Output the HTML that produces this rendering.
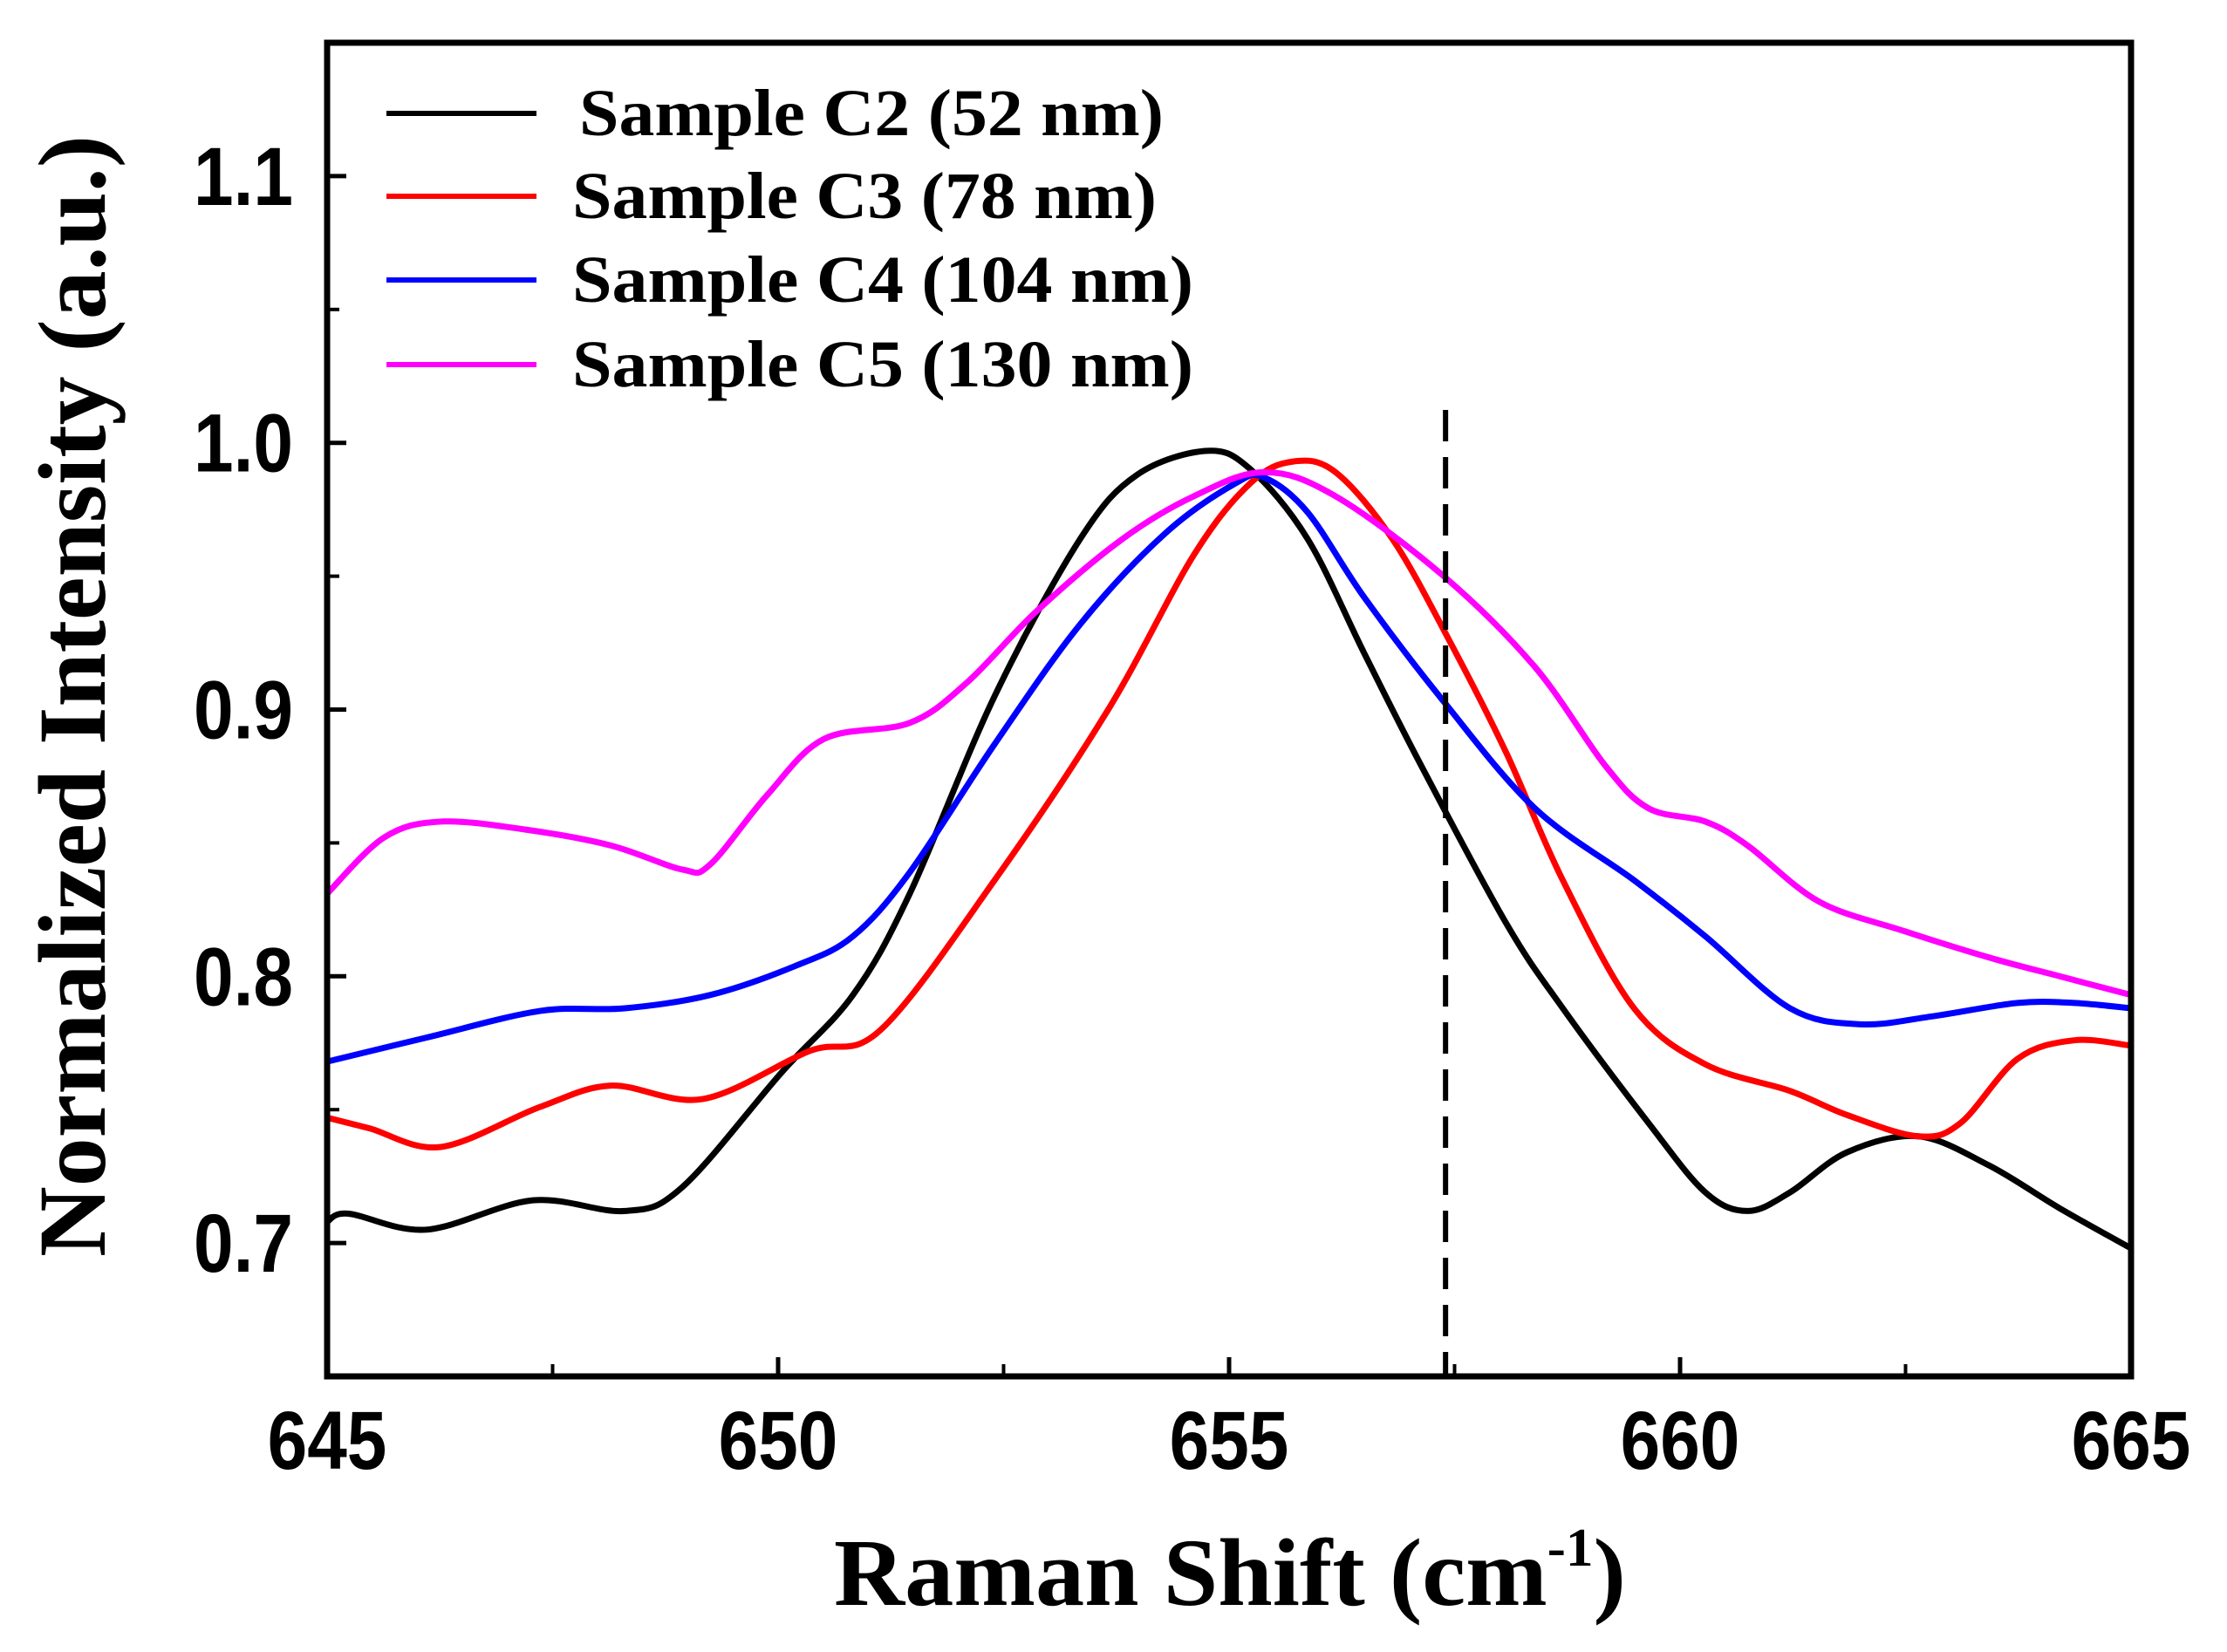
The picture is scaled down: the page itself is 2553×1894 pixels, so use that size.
<!DOCTYPE html>
<html><head><meta charset="utf-8"><style>
html,body{margin:0;padding:0;background:#fff;}
svg{display:block;}
</style></head><body>
<svg id="chart" width="2553" height="1894" viewBox="0 0 2553 1894" xmlns="http://www.w3.org/2000/svg">
<g id="plot"></g>
</svg>
<script>
const xTicks=[645,650,655,660,665];
const xMinor=[647.5,652.5,657.5,662.5];
const yTicks=[0.7,0.8,0.9,1.0,1.1];
const yTickLabels=["0.7","0.8","0.9","1.0","1.1"];
const yMinor=[0.75,0.85,0.95,1.05];
const dashX=657.4;
const c2x=[645,645.24,646.1,647.28,648.3,648.94,650.04,650.83,651.46,652.4,653.35,653.98,654.76,655.24,655.87,656.5,657.13,658.07,658.7,659.65,660.28,660.75,661.22,661.85,662.64,663.43,664.21,665];
const c2y=[0.708,0.711,0.705,0.716,0.712,0.721,0.764,0.793,0.831,0.905,0.964,0.988,0.997,0.990,0.964,0.921,0.879,0.820,0.788,0.745,0.719,0.712,0.719,0.734,0.740,0.729,0.713,0.698];
const c3x=[645,645.47,646.26,647.36,648.15,649.17,650.35,651.14,652.4,653.66,654.61,655.24,655.71,656.18,656.81,657.44,658.07,658.7,659.49,660.28,661.22,661.85,662.64,663.11,663.74,664.37,665];
const c3y=[0.747,0.743,0.736,0.751,0.759,0.754,0.772,0.780,0.836,0.900,0.958,0.985,0.993,0.989,0.964,0.926,0.884,0.836,0.788,0.767,0.757,0.748,0.740,0.745,0.769,0.776,0.774];
const c4x=[645,646.1,647.36,648.3,649.25,650.2,650.83,651.46,652.4,653.35,654.29,655.08,655.39,655.87,656.5,657.38,658.39,659.49,660.28,661.22,662.0,662.8,663.74,664.37,665];
const c4y=[0.768,0.777,0.787,0.788,0.793,0.804,0.815,0.839,0.887,0.932,0.966,0.985,0.987,0.974,0.942,0.903,0.863,0.836,0.815,0.788,0.782,0.785,0.790,0.790,0.788];
const c5x=[645,645.63,646.26,647.2,648.15,648.94,649.25,649.88,650.51,651.46,652.09,652.87,653.82,654.61,655.39,656.18,657.38,658.39,659.17,659.65,660.28,660.75,661.54,662.48,663.43,664.21,665];
const c5y=[0.831,0.852,0.858,0.855,0.849,0.840,0.842,0.868,0.889,0.895,0.910,0.937,0.964,0.980,0.989,0.980,0.950,0.916,0.879,0.863,0.858,0.849,0.828,0.817,0.807,0.800,0.793];
const seriesNames=["Sample C2 (52 nm)","Sample C3 (78 nm)","Sample C4 (104 nm)","Sample C5 (130 nm)"];

const L=375,R=2443,T=49,B=1578;
const X=v=>L+(v-645)/(665-645)*(R-L);
const Y=v=>B-(v-0.65)/(1.15-0.65)*(B-T);
const NS="http://www.w3.org/2000/svg";
const g=document.getElementById('plot');
function mk(tag,attrs,parent){const e=document.createElementNS(NS,tag);for(const k in attrs)e.setAttribute(k,attrs[k]);(parent||g).appendChild(e);return e;}
function smooth(xs,ys){
  const p=xs.map((x,i)=>[X(x),Y(ys[i])]);
  let d="M"+p[0][0]+","+p[0][1];
  for(let i=0;i<p.length-1;i++){
    const p0=p[i-1]||p[i],p1=p[i],p2=p[i+1],p3=p[i+2]||p2;
    const c1=[p1[0]+(p2[0]-p0[0])/6,p1[1]+(p2[1]-p0[1])/6];
    const c2=[p2[0]-(p3[0]-p1[0])/6,p2[1]-(p3[1]-p1[1])/6];
    d+=" C"+c1[0]+","+c1[1]+" "+c2[0]+","+c2[1]+" "+p2[0]+","+p2[1];
  }
  return d;
}
const cols=["#000000","#ff0000","#0000ff","#ff00ff"];
const xs=[c2x,c3x,c4x,c5x], ys=[c2y,c3y,c4y,c5y];
const keys=["c2","c3","c4","c5"];
for(let i=0;i<4;i++){
  const p=mk('path',{d:smooth(xs[i],ys[i]),fill:'none',stroke:cols[i],'stroke-width':7,'stroke-linejoin':'round'});
  
  
}
const dl=mk('line',{x1:X(dashX),x2:X(dashX),y1:470,y2:B,stroke:'#000','stroke-width':6,'stroke-dasharray':'36,18'});


const frame=mk('rect',{x:L,y:T,width:R-L,height:B-T,fill:'none',stroke:'#000','stroke-width':7});


xTicks.forEach((v,i)=>{
  const t=mk('line',{x1:X(v),x2:X(v),y1:B,y2:B-22,stroke:'#000','stroke-width':5});
  
  
  const lb=mk('text',{x:0,y:0,'text-anchor':'middle','font-family':'Liberation Sans, sans-serif','font-weight':'bold','font-size':82,transform:'translate('+X(v)+',1684) scale(1,1.15)'});
  lb.textContent=String(v);
  
  
});
xMinor.forEach(v=>{
  const t=mk('line',{x1:X(v),x2:X(v),y1:B,y2:B-14,stroke:'#000','stroke-width':4});
  
  
});
yTicks.forEach((v,i)=>{
  const t=mk('line',{x1:L,x2:L+22,y1:Y(v),y2:Y(v),stroke:'#000','stroke-width':5});
  
  
  const lb=mk('text',{x:0,y:0,'text-anchor':'end','font-family':'Liberation Sans, sans-serif','font-weight':'bold','font-size':82,transform:'translate(336,'+(Y(v)+33)+') scale(1,1.15)'});
  lb.textContent=yTickLabels[i];
  
  
});
yMinor.forEach(v=>{
  const t=mk('line',{x1:L,x2:L+14,y1:Y(v),y2:Y(v),stroke:'#000','stroke-width':4});
  
  
});
const lineY=[130,225,321,418], textY=[155,250,346,443], textX=[664,656,656,656], textW=[670,670,712,712];
for(let i=0;i<4;i++){
  const ln=mk('line',{x1:443,x2:615,y1:lineY[i],y2:lineY[i],stroke:cols[i],'stroke-width':6});
  
  
  const tx=mk('text',{x:textX[i],y:textY[i],'font-family':'Liberation Serif, serif','font-weight':'bold','font-size':76,textLength:textW[i],lengthAdjust:'spacingAndGlyphs'});
  tx.textContent=seriesNames[i];
  
  
}
const xt=mk('text',{x:956,y:1840,'font-family':'Liberation Serif, serif','font-weight':'bold','font-size':110,textLength:908,lengthAdjust:'spacingAndGlyphs'});
xt.innerHTML='Raman Shift (cm<tspan font-size="62" dy="-45">-1</tspan><tspan dy="45">)</tspan>';


const yt=mk('text',{x:0,y:0,'text-anchor':'middle','font-family':'Liberation Serif, serif','font-weight':'bold','font-size':110,textLength:1286,lengthAdjust:'spacingAndGlyphs',transform:'translate(120,798) rotate(-90)'});
yt.textContent='Normalized Intensity (a.u.)';


</script>
</body></html>
